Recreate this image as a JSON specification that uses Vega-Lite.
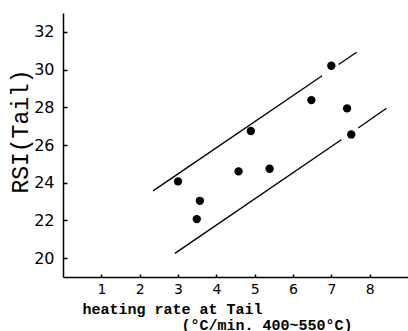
{
  "$schema": "https://vega.github.io/schema/vega-lite/v6.json",
  "width": 345,
  "height": 264,
  "autosize": {"type": "none"},
  "padding": {"left": 63, "top": 13, "right": 0, "bottom": 54},
  "background": "white",
  "config": {"view": {"stroke": null}},
  "layer": [
    {
      "data": {"values": [
        {"seg": "upper1", "x": 2.35, "y": 23.57},
        {"seg": "upper1", "x": 6.76, "y": 29.67},
        {"seg": "upper2", "x": 7.19, "y": 30.27},
        {"seg": "upper2", "x": 7.66, "y": 30.92},
        {"seg": "lower1", "x": 2.92, "y": 20.25},
        {"seg": "lower1", "x": 7.26, "y": 26.28},
        {"seg": "lower2", "x": 7.7, "y": 26.9},
        {"seg": "lower2", "x": 8.44, "y": 27.95}
      ]},
      "mark": {"type": "line", "color": "black", "strokeWidth": 1.4},
      "encoding": {
        "x": {
          "field": "x", "type": "quantitative",
          "scale": {"domain": [0, 9], "nice": false},
          "axis": {
            "values": [1, 2, 3, 4, 5, 6, 7, 8],
            "grid": false,
            "domainColor": "black", "domainWidth": 1.5,
            "tickColor": "black", "tickSize": -3, "tickWidth": 1.5,
            "labelFont": "DejaVu Sans", "labelFontSize": 14, "labelColor": "black", "labelPadding": 8,
            "title": ["heating rate at Tail", "\u200d\u00a0\u00a0\u00a0\u00a0\u00a0\u00a0\u00a0\u00a0\u00a0\u00a0\u00a0(°C/min. 400~550°C)"],
            "titleFont": "Liberation Mono", "titleFontWeight": "bold", "titleFontSize": 15,
            "titleColor": "black", "titleAnchor": "start", "titleAlign": "left",
            "titleX": 19, "titleY": 24, "titleBaseline": "top", "titleLineHeight": 16
          }
        },
        "y": {
          "field": "y", "type": "quantitative",
          "scale": {"domain": [19, 33], "nice": false, "zero": false},
          "axis": {
            "values": [20, 22, 24, 26, 28, 30, 32],
            "grid": false,
            "domainColor": "black", "domainWidth": 1.5,
            "tickColor": "black", "tickSize": -4, "tickWidth": 1.5,
            "labelFont": "DejaVu Sans", "labelFontSize": 16, "labelColor": "black", "labelPadding": 13,
            "title": "RSI(Tail)",
            "titleFont": "Liberation Mono", "titleFontWeight": "normal", "titleFontSize": 23,
            "titleColor": "black", "titleAngle": 270, "titleAlign": "center", "titleBaseline": "middle",
            "titleX": -43, "titleY": 118
          }
        },
        "detail": {"field": "seg"}
      }
    },
    {
      "data": {"values": [
        {"x": 3.0, "y": 24.07},
        {"x": 3.57, "y": 23.04},
        {"x": 3.49, "y": 22.07},
        {"x": 4.58, "y": 24.6},
        {"x": 4.9, "y": 26.74},
        {"x": 5.39, "y": 24.74},
        {"x": 6.48, "y": 28.38},
        {"x": 7.0, "y": 30.2},
        {"x": 7.41, "y": 27.94},
        {"x": 7.52, "y": 26.56}
      ]},
      "mark": {"type": "point", "filled": true, "color": "black", "size": 70, "opacity": 1},
      "encoding": {
        "x": {"field": "x", "type": "quantitative"},
        "y": {"field": "y", "type": "quantitative"}
      }
    }
  ]
}
